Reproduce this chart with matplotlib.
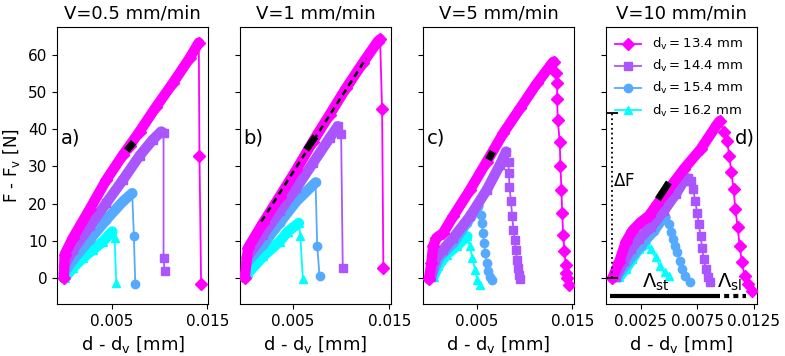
import numpy as np
import matplotlib
matplotlib.use('Agg')
import matplotlib.pyplot as plt

# speeds and indenter diameters
titles = ["V=0.5 mm/min", "V=1 mm/min", "V=5 mm/min", "V=10 mm/min"]
panel_tags = ["a)", "b)", "c)", "d)"]
dv_labels = [r"$\mathrm{d}_\mathrm{v}=13.4$ mm", r"$\mathrm{d}_\mathrm{v}=14.4$ mm",
             r"$\mathrm{d}_\mathrm{v}=15.4$ mm", r"$\mathrm{d}_\mathrm{v}=16.2$ mm"]

# panel a) V=0.5 mm/min
x_a_134 = [0.0, 0.0001, 0.00097, 0.00271, 0.00445, 0.00618, 0.00688, 0.00792, 0.00966, 0.01139, 0.01313, 0.0141, 0.01417, 0.01434]
F_a_134 = [0.0, 6.3, 10.8, 18.5, 26.4, 33.1, 35.6, 39.4, 46.1, 52.4, 59.1, 63.3, 32.7, -1.5]
x_a_144 = [0.0, 0.00097, 0.00271, 0.00445, 0.00618, 0.00792, 0.0093, 0.01018, 0.01042, 0.01042, 0.01052]
F_a_144 = [3.1, 7.6, 13.9, 20.2, 26.4, 32.9, 37.2, 39.4, 39.0, 5.5, 2.0]
x_a_154 = [0.0, 0.00097, 0.00271, 0.00445, 0.00618, 0.00715, 0.00732, 0.00747]
F_a_154 = [1.3, 4.9, 10.3, 15.7, 20.6, 22.8, 11.4, -1.5]
x_a_162 = [0.0001, 0.00097, 0.002, 0.00305, 0.00409, 0.00507, 0.00531, 0.00549]
F_a_162 = [0.0, 2.7, 5.4, 7.6, 9.8, 12.5, 10.8, -1.3]
fit_a_x = [0.00659, 0.00729]
fit_a_F = [34.3, 36.5]

# panel b) V=1 mm/min
x_b_134 = [0.0, 0.00035, 0.0019, 0.00362, 0.00535, 0.00707, 0.0088, 0.01052, 0.01224, 0.01379, 0.01404, 0.01425, 0.01438]
F_b_134 = [0.0, 8.1, 14.8, 21.9, 29.1, 36.7, 43.9, 51.1, 57.8, 63.6, 64.2, 45.4, 2.7]
x_b_144 = [0.00018, 0.0019, 0.00362, 0.00535, 0.00707, 0.0088, 0.00965, 0.01, 0.01017]
F_b_144 = [5.4, 11.6, 17.9, 24.2, 30.9, 37.6, 40.8, 38.8, 2.7]
x_b_154 = [0.00018, 0.0019, 0.00362, 0.00535, 0.00735, 0.00752, 0.00776]
F_b_154 = [4.0, 9.0, 14.8, 20.6, 25.7, 8.7, 0.6]
x_b_162 = [0.00035, 0.0019, 0.00362, 0.00448, 0.00562, 0.00577, 0.00603]
F_b_162 = [1.3, 5.8, 9.8, 12.5, 14.8, 11.2, -0.3]
fit_b_x = [0.00639, 0.00735]
fit_b_F = [34.5, 38.1]
slope_b_x = [0.00173, 0.0126]
slope_b_F = [15.2, 59.1]

# panel c) V=5 mm/min
x_c_134 = [0.0, 0.00026, 0.00043, 0.00079, 0.00148, 0.00254, 0.0043, 0.00605, 0.0078, 0.00956, 0.01132, 0.0129, 0.01306,
           0.01335, 0.01342, 0.01342, 0.01348, 0.01369, 0.01377, 0.01387, 0.01395, 0.01405, 0.01419, 0.0143, 0.0144, 0.01447, 0.01464]
F_c_134 = [-0.3, 4.0, 8.5, 10.8, 12.1, 16.6, 23.7, 31.3, 39.0, 45.7, 52.4, 57.8, 58.2,
           55.1, 52.4, 48.1, 42.6, 36.7, 30.0, 23.7, 17.5, 11.6, 7.2, 3.6, 1.3, 0.0, -1.8]
x_c_144 = [0.00026, 0.00061, 0.00148, 0.00254, 0.0043, 0.00605, 0.00745, 0.00808, 0.00833, 0.00837,
           0.00843, 0.00858, 0.00872, 0.00885, 0.00896, 0.0091, 0.00921, 0.00932, 0.00945, 0.00956]
F_c_144 = [0.4, 4.9, 7.6, 10.8, 16.6, 23.7, 30.5, 34.0, 31.3, 28.2,
           24.6, 20.6, 16.6, 13.0, 10.3, 7.6, 4.9, 2.7, 0.9, -0.3]
x_c_154 = [0.00037, 0.00114, 0.00254, 0.00395, 0.005, 0.00517, 0.00542, 0.00553, 0.00563, 0.00577, 0.00591, 0.00605, 0.00622, 0.0064, 0.00658]
F_c_154 = [1.3, 5.8, 9.4, 14.8, 18.8, 19.4, 17.0, 14.8, 12.1, 9.4, 6.7, 4.0, 1.8, 0.2, -0.5]
x_c_162 = [0.00051, 0.00096, 0.00184, 0.00289, 0.00377, 0.00401, 0.0043, 0.00454, 0.00482, 0.00507, 0.00535]
F_c_162 = [0.4, 3.1, 6.3, 8.5, 10.8, 11.2, 8.5, 5.4, 2.2, -0.5, -1.8]
fit_c_x = [0.00622, 0.00668]
fit_c_F = [31.8, 34.0]

# panel d) V=10 mm/min
x_d_134 = [0.0, 0.00059, 0.00118, 0.00177, 0.0025, 0.00323, 0.00397, 0.00486, 0.00632, 0.0078, 0.00927, 0.0095,
           0.00991, 0.01015, 0.01035, 0.01053, 0.01073, 0.01088, 0.01109, 0.01126, 0.01147, 0.0117, 0.01197, 0.01236]
F_d_134 = [0.0, 4.2, 9.6, 12.7, 15.0, 16.7, 19.9, 23.4, 29.3, 34.6, 41.3, 42.2,
           39.3, 36.9, 32.8, 28.4, 23.9, 18.5, 13.6, 8.7, 4.2, 0.6, -1.6, -3.4]
x_d_144 = [0.00029, 0.00103, 0.00162, 0.00235, 0.00338, 0.00456, 0.00559, 0.00632, 0.00667, 0.00697,
           0.00715, 0.00733, 0.0075, 0.00764, 0.0078, 0.00794, 0.00809, 0.00826, 0.00844, 0.00868]
F_d_144 = [0.2, 4.6, 7.8, 10.5, 13.6, 18.1, 22.5, 26.1, 26.8, 26.1,
           23.9, 20.8, 17.6, 14.5, 11.4, 8.2, 5.1, 2.4, 0.2, -1.2]
x_d_154 = [0.00044, 0.00132, 0.0025, 0.00368, 0.00441, 0.0047, 0.005, 0.0052, 0.00539, 0.00556, 0.00574, 0.00594, 0.00618, 0.00647, 0.00685]
F_d_154 = [0.6, 4.2, 8.7, 12.7, 15.8, 16.3, 14.5, 12.3, 10.5, 8.7, 6.9, 4.6, 2.4, 0.6, -1.0]
x_d_162 = [0.00059, 0.00118, 0.00177, 0.00235, 0.00294, 0.00338, 0.00382, 0.0042, 0.00462, 0.005]
F_d_162 = [0.2, 2.4, 5.1, 7.8, 9.1, 7.8, 5.6, 3.3, 1.5, 0.6]
fit_d_x = [0.00403, 0.005]
fit_d_F = [21.2, 25.7]

# annotations in d)
dF_x = [0.0, 0.0]
dF_y = [0.0, 44.5]
lam_st_x = [-0.0002, 0.0091]
lam_sl_x = [0.0091, 0.0118]
lam_y = -4.9

xlims = [(-0.0007, 0.0151), (-0.0005, 0.0152), (-0.00065, 0.0152), (-0.0006, 0.0128)]
xticks = [[0.005, 0.015], [0.005, 0.015], [0.005, 0.015], [0.0025, 0.0075, 0.0125]]

colors = plt.cm.cool([1.0, 2 / 3, 1 / 3, 0.0])
markers = ['D', 's', 'o', '^']

panels = [
    [(x_a_134, F_a_134), (x_a_144, F_a_144), (x_a_154, F_a_154), (x_a_162, F_a_162)],
    [(x_b_134, F_b_134), (x_b_144, F_b_144), (x_b_154, F_b_154), (x_b_162, F_b_162)],
    [(x_c_134, F_c_134), (x_c_144, F_c_144), (x_c_154, F_c_154), (x_c_162, F_c_162)],
    [(x_d_134, F_d_134), (x_d_144, F_d_144), (x_d_154, F_d_154), (x_d_162, F_d_162)],
]
fits = [(fit_a_x, fit_a_F), (fit_b_x, fit_b_F), (fit_c_x, fit_c_F), (fit_d_x, fit_d_F)]

fig, axes = plt.subplots(1, 4, sharey=True, figsize=(7.85, 3.56), dpi=100)
fig.subplots_adjust(left=57 / 785, right=757 / 785, bottom=0.146, top=0.924, wspace=0.208)

for p, ax in enumerate(axes):
    handles = []
    for i, (x, F) in enumerate(panels[p]):
        k = int(np.argmax(F))
        # loading branch: densely sampled in the measurement -> thick band
        ax.plot(x[:k + 1], F[:k + 1], '-', color=colors[i], lw=7.5, solid_capstyle='round', zorder=5 - i)
        h, = ax.plot(x, F, '-', color=colors[i], lw=1.3, marker=markers[i], ms=6,
                     zorder=5 - i, label=dv_labels[i])
        handles.append(h)
    fx, fF = fits[p]
    ax.plot(fx, fF, '-', color='black', lw=5, solid_capstyle='butt', zorder=10)
    ax.set_title(titles[p], fontsize=13)
    if p < 3:
        ax.text(0.09, 0.6, panel_tags[p], transform=ax.transAxes,
                fontsize=14, va='center', ha='center')
    ax.set_xlim(*xlims[p])
    ax.set_xticks(xticks[p])
    ax.set_xticklabels([f"{t:g}" for t in xticks[p]])
    ax.tick_params(labelsize=11)
    ax.set_xlabel(r"d - d$_\mathrm{v}$ [mm]", fontsize=13)

axes[1].plot(slope_b_x, slope_b_F, color='black', lw=1.8, linestyle=(0, (2.5, 1.8)), zorder=11)

ax = axes[3]
ax.text(0.92, 0.6, panel_tags[3], transform=ax.transAxes, fontsize=14, va='center', ha='center')
ax.plot(dF_x, dF_y, ':', color='black', lw=1.3, zorder=12)
ax.plot(dF_x, dF_y, '_', color='black', ms=9, mew=1.3, zorder=12)
ax.text(0.00103, 26.0, r"$\Delta$F", fontsize=12, ha='center', va='center')
ax.plot(lam_st_x, [lam_y, lam_y], '-', color='black', lw=3, solid_capstyle='butt')
ax.plot(lam_sl_x, [lam_y, lam_y], color='black', lw=3, linestyle=(0, (1.2, 1.0)))
ax.text(0.0038, -1.2, r"$\Lambda_{\mathrm{st}}$", fontsize=14, ha='center', va='center')
ax.text(0.0104, -1.2, r"$\Lambda_{\mathrm{sl}}$", fontsize=14, ha='center', va='center')
ax.legend(handles=handles, loc='upper left', frameon=False, fontsize=9.5,
          borderaxespad=0.3, labelspacing=0.45)

axes[0].set_ylim(-7, 67.5)
axes[0].set_yticks([0, 10, 20, 30, 40, 50, 60])
axes[0].set_ylabel(r"F - F$_\mathrm{v}$ [N]", fontsize=12)

plt.savefig('out.png', dpi=100)
